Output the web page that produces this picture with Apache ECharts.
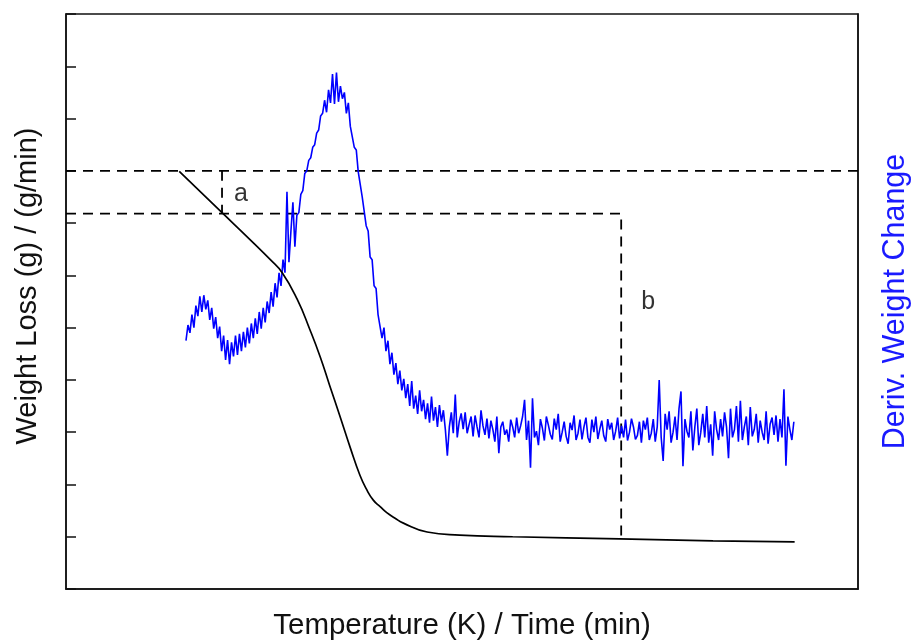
<!DOCTYPE html>
<html>
<head>
<meta charset="utf-8">
<script src="https://cdn.jsdelivr.net/npm/echarts@6/dist/echarts.min.js"></script>
<style>
  html, body { margin: 0; padding: 0; background: #fff; }
  #chart { width: 916px; height: 642px; }
</style>
</head>
<body>
<div id="chart"></div>
<script>
// weight loss curve (left axis), x in arbitrary temperature/time units 0..100
var weightX = [14.3, 19.7, 23.2, 25.8, 27.3, 29.2, 30.8, 32.1, 33.3, 34.6, 35.9, 37.1, 37.9, 38.8, 39.7, 40.5, 41.5, 42.6, 45.6, 49.7, 56.4, 69.9, 81.7, 92.0]
var weightY = [7.99, 7.20, 6.69, 6.30, 6.05, 5.54, 4.96, 4.44, 3.89, 3.30, 2.70, 2.18, 1.92, 1.70, 1.57, 1.46, 1.36, 1.26, 1.09, 1.03, 1.00, 0.96, 0.92, 0.90]

// derivative signal, sampled every derivStep starting at derivStart
var derivStart = 15.15
var derivStep = 0.25
var derivValues = [
  4.75, 5.05, 4.90, 5.25, 5.00, 5.42, 5.22, 5.60, 5.30, 5.62,
  5.35, 5.52, 5.15, 5.38, 4.98, 5.20, 4.80, 5.02, 4.55, 4.85,
  4.38, 4.76, 4.30, 4.72, 4.45, 4.85, 4.48, 4.88, 4.55, 4.92,
  4.62, 5.00, 4.70, 5.08, 4.80, 5.18, 4.88, 5.30, 4.98, 5.38,
  5.10, 5.50, 5.28, 5.68, 5.40, 5.85, 5.58, 6.05, 5.80, 6.30,
  6.05, 7.60, 6.25, 6.85, 7.40, 6.55, 7.15, 7.20, 7.55, 7.62,
  7.95, 8.00, 8.20, 8.25, 8.45, 8.50, 8.72, 8.78, 9.05, 9.10,
  9.35, 9.12, 9.55, 9.30, 9.85, 9.28, 9.88, 9.32, 9.62, 9.38,
  9.50, 9.10, 9.30, 8.85, 8.82, 8.45, 8.40, 7.98, 8.00, 7.50,
  7.48, 6.95, 6.85, 6.35, 6.30, 5.80, 5.75, 5.25, 5.25, 4.80,
  5.00, 4.55, 4.75, 4.30, 4.52, 4.10, 4.32, 3.92, 4.18, 3.80,
  4.02, 3.65, 3.92, 3.50, 3.98, 3.45, 3.70, 3.35, 3.80, 3.40,
  3.62, 3.25, 3.55, 3.18, 3.68, 3.22, 3.48, 3.10, 3.52, 3.20,
  3.42, 3.05, 2.55, 3.10, 3.38, 2.98, 3.72, 2.90, 3.20, 3.36,
  3.06, 3.38, 2.98, 3.15, 3.30, 2.92, 3.32, 3.10, 2.90, 3.42,
  3.12, 2.95, 3.26, 2.88, 3.22, 3.05, 2.82, 3.30, 2.60, 3.10,
  3.20, 2.95, 3.05, 2.82, 3.24, 3.10, 2.90, 3.28, 2.98, 3.12,
  3.30, 3.62, 2.85, 3.22, 2.32, 3.65, 2.90, 3.02, 2.75, 3.25,
  3.08, 2.84, 3.30, 3.14, 2.96, 2.86, 3.26, 3.05, 3.35, 2.82,
  3.00, 3.20, 2.92, 2.78, 3.18, 3.04, 3.32, 2.85, 2.98, 3.24,
  2.86, 3.10, 3.28, 2.90, 2.80, 3.24, 3.00, 3.30, 2.87, 3.06,
  3.22, 2.93, 2.82, 3.25, 3.05, 3.18, 2.85, 3.02, 3.28, 2.88,
  3.12, 2.90, 3.24, 2.84, 3.00, 3.26, 3.10, 2.86, 2.94, 3.20,
  2.80, 3.22, 3.05, 3.28, 2.85, 2.98, 3.25, 2.82, 3.10, 4.00,
  2.90, 2.45, 3.35, 3.05, 3.40, 2.80, 3.00, 3.30, 2.85, 3.45,
  3.78, 2.35, 3.25, 3.02, 2.90, 3.40, 2.65, 3.10, 3.45, 2.75,
  3.00, 3.35, 2.90, 3.50, 2.80, 3.15, 2.55, 3.40, 3.05, 2.85,
  3.25, 2.92, 3.38, 3.10, 2.50, 3.45, 2.90, 3.05, 3.50, 2.82,
  3.60, 2.85, 3.10, 3.30, 2.75, 3.48, 2.92, 3.05, 3.35, 2.80,
  3.22, 3.00, 2.85, 3.40, 2.78, 3.15, 3.28, 2.95, 3.32, 2.82,
  3.25, 2.90, 3.82, 2.36, 3.30, 3.05, 2.85, 3.20
]

// construction lines for the two steps a and b
var stepTopY = 8.0
var stepBottomY = 7.18
var stepAX = 19.7
var stepAEndY = 7.2
var stepBX = 70.1
var stepBEndY = 0.96

var noteLabels = ['a', 'b']
var noteX = [22.1, 73.5]
var noteY = [7.55, 5.48]

var chart = echarts.init(document.getElementById('chart'))

var weightData = weightX.map(function (x, i) { return [x, weightY[i]] })
var derivData = derivValues.map(function (v, i) { return [derivStart + i * derivStep, v] })
var noteData = noteLabels.map(function (n, i) { return { name: n, value: [noteX[i], noteY[i]] } })

var dashStyle = { color: '#000', width: 1.8, type: [10, 7] }

var option = {
  animation: false,
  backgroundColor: '#fff',
  grid: {
    left: 66, right: 58, top: 14, bottom: 53,
    outerBoundsMode: 'none',
    show: true, borderColor: '#111', borderWidth: 1.5
  },
  graphic: [
    {
      type: 'text', x: 28, y: 286, rotation: Math.PI / 2,
      style: {
        text: 'Weight Loss (g) / (g/min)',
        font: '29px "Liberation Sans"', fill: '#111',
        align: 'center', verticalAlign: 'middle'
      }
    }
  ],
  xAxis: {
    type: 'value', min: 0, max: 100,
    name: 'Temperature (K) / Time (min)',
    nameLocation: 'middle', nameGap: 22,
    nameTextStyle: { fontFamily: 'Liberation Sans', fontSize: 29.5, color: '#111' },
    axisLine: { show: true, lineStyle: { color: '#111', width: 1.5 } },
    axisTick: { show: false },
    axisLabel: { show: false },
    splitLine: { show: false }
  },
  yAxis: [
    {
      type: 'value', min: 0, max: 11, interval: 1,
      axisLine: { show: true, lineStyle: { color: '#111', width: 1.5 } },
      axisTick: { show: true, inside: true, length: 10, lineStyle: { color: '#111', width: 1.5 } },
      axisLabel: { show: false },
      splitLine: { show: false }
    },
    {
      type: 'value', min: 0, max: 11, position: 'right',
      name: 'Deriv. Weight Change',
      nameLocation: 'middle', nameGap: 22, nameRotate: 90,
      nameTextStyle: { fontFamily: 'Liberation Sans', fontSize: 30.5, color: '#1a1aff' },
      axisLine: { show: true, lineStyle: { color: '#111', width: 1.5 } },
      axisTick: { show: false },
      axisLabel: { show: false },
      splitLine: { show: false }
    }
  ],
  series: [
    {
      name: 'top level', type: 'line', yAxisIndex: 0, symbol: 'none',
      lineStyle: dashStyle,
      data: [[0, stepTopY], [100, stepTopY]]
    },
    {
      name: 'step b', type: 'line', yAxisIndex: 0, symbol: 'none',
      lineStyle: dashStyle,
      data: [[0, stepBottomY], [stepBX, stepBottomY], [stepBX, stepBEndY]]
    },
    {
      name: 'step a', type: 'line', yAxisIndex: 0, symbol: 'none',
      lineStyle: dashStyle,
      data: [[stepAX, stepTopY], [stepAX, stepAEndY]]
    },
    {
      name: 'Deriv. Weight Change', type: 'line', yAxisIndex: 1, symbol: 'none',
      lineStyle: { color: '#0000ff', width: 1.6 },
      data: derivData
    },
    {
      name: 'Weight Loss', type: 'line', yAxisIndex: 0, symbol: 'none',
      smooth: 0.5,
      lineStyle: { color: '#000', width: 1.7 },
      data: weightData
    },
    {
      name: 'notes', type: 'scatter', yAxisIndex: 0, symbolSize: 0,
      label: {
        show: true, position: 'inside', formatter: '{b}',
        fontFamily: 'Liberation Sans', fontSize: 25, color: '#000'
      },
      data: noteData
    }
  ]
}

chart.setOption(option)
</script>
</body>
</html>
